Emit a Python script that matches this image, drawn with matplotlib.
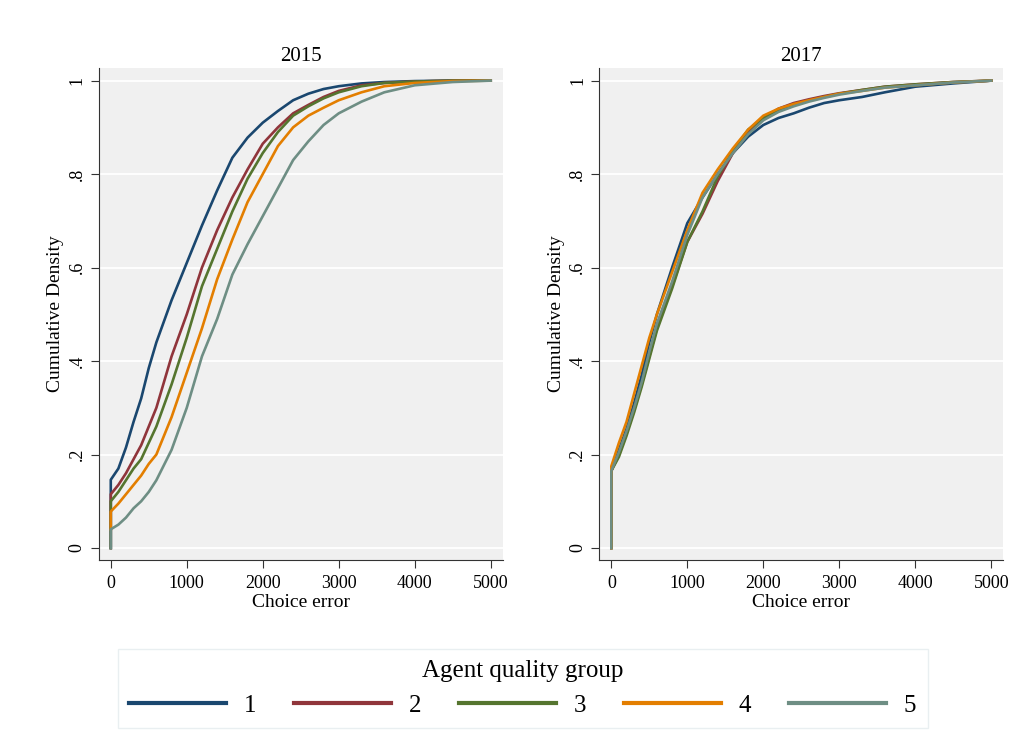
import matplotlib.pyplot as plt

plt.rcParams["font.family"] = ["Liberation Serif", "DejaVu Serif"]

# choice error grid (first point doubled for the jump at zero)
x = [0, 0, 100, 200, 300, 400, 500, 600, 800, 1000, 1200, 1400, 1600, 1800,
     2000, 2200, 2400, 2600, 2800, 3000, 3300, 3600, 4000, 4500, 5000]

groups = ["1", "2", "3", "4", "5"]
colors = ["#1a476f", "#90353b", "#55752f", "#e37e00", "#6e8e84"]

cdf_2015 = [
    [0, 0.146, 0.17, 0.215, 0.27, 0.32, 0.385, 0.44, 0.53, 0.61, 0.69, 0.765, 0.835, 0.878,
     0.91, 0.935, 0.958, 0.972, 0.982, 0.988, 0.994, 0.997, 0.999, 1.0, 1.0],
    [0, 0.115, 0.135, 0.16, 0.19, 0.22, 0.26, 0.30, 0.41, 0.50, 0.60, 0.68, 0.75, 0.81,
     0.865, 0.90, 0.93, 0.948, 0.965, 0.978, 0.99, 0.995, 0.998, 1.0, 1.0],
    [0, 0.10, 0.12, 0.145, 0.17, 0.19, 0.225, 0.26, 0.35, 0.45, 0.56, 0.64, 0.72, 0.79,
     0.845, 0.89, 0.925, 0.945, 0.962, 0.975, 0.988, 0.995, 0.998, 1.0, 1.0],
    [0.04, 0.078, 0.095, 0.115, 0.135, 0.155, 0.18, 0.20, 0.28, 0.375, 0.47, 0.575, 0.66, 0.74,
     0.80, 0.86, 0.90, 0.925, 0.942, 0.958, 0.975, 0.988, 0.995, 0.999, 1.0],
    [0, 0.04, 0.05, 0.065, 0.085, 0.10, 0.12, 0.145, 0.21, 0.30, 0.41, 0.49, 0.585, 0.65,
     0.71, 0.77, 0.83, 0.87, 0.905, 0.93, 0.955, 0.975, 0.99, 0.997, 1.0],
]

cdf_2017 = [
    [0, 0.165, 0.21, 0.255, 0.31, 0.37, 0.44, 0.50, 0.60, 0.695, 0.75, 0.80, 0.845, 0.88,
     0.905, 0.92, 0.93, 0.942, 0.952, 0.958, 0.965, 0.975, 0.987, 0.994, 1.0],
    [0, 0.165, 0.20, 0.245, 0.295, 0.35, 0.41, 0.47, 0.56, 0.655, 0.715, 0.785, 0.845, 0.89,
     0.92, 0.94, 0.952, 0.96, 0.967, 0.973, 0.98, 0.987, 0.992, 0.997, 1.0],
    [0, 0.165, 0.195, 0.24, 0.29, 0.345, 0.405, 0.465, 0.555, 0.655, 0.72, 0.795, 0.85, 0.895,
     0.92, 0.937, 0.948, 0.957, 0.965, 0.972, 0.98, 0.987, 0.992, 0.997, 1.0],
    [0, 0.175, 0.225, 0.27, 0.33, 0.39, 0.45, 0.50, 0.59, 0.68, 0.76, 0.81, 0.855, 0.895,
     0.925, 0.94, 0.95, 0.958, 0.965, 0.972, 0.978, 0.985, 0.99, 0.996, 1.0],
    [0, 0.165, 0.205, 0.25, 0.30, 0.355, 0.42, 0.48, 0.57, 0.67, 0.75, 0.80, 0.845, 0.885,
     0.915, 0.933, 0.945, 0.955, 0.963, 0.97, 0.978, 0.985, 0.99, 0.996, 1.0],
]

years = ["2015", "2017"]
panels = [cdf_2015, cdf_2017]

fig = plt.figure(figsize=(10.31, 7.53), dpi=100)
ax_l = fig.add_axes([0.0958, 0.2563, 0.3918, 0.6534])
ax_r = fig.add_axes([0.5813, 0.2563, 0.3918, 0.6534])

for ax, year, data in zip([ax_l, ax_r], years, panels):
    ax.set_facecolor("#f0f0f0")
    for g, c, y in zip(groups, colors, data):
        ax.plot(x, y, color=c, lw=1.9, label=g)
    ax.set_xlim(-158, 5158)
    ax.set_ylim(-0.0257, 1.027)
    ax.set_xticks([0, 1000, 2000, 3000, 4000, 5000])
    ax.set_yticks([0, 0.2, 0.4, 0.6, 0.8, 1.0])
    ax.set_yticklabels(["0", ".2", ".4", ".6", ".8", "1"], rotation=90, va="center")
    ax.tick_params(labelsize=13, length=6, color="#333333")
    ax.tick_params(axis="x", pad=5)
    ax.grid(axis="y", color="white", lw=1.3)
    ax.set_axisbelow(True)
    for s in ["top", "right"]:
        ax.spines[s].set_visible(False)
    for s in ["left", "bottom"]:
        ax.spines[s].set_color("#333333")
    ax.set_title(year, fontsize=15, pad=5)
    ax.set_xlabel("Choice error", fontsize=14, labelpad=1)
    ax.set_ylabel("Cumulative Density", fontsize=14, labelpad=3)

handles, labels = ax_l.get_legend_handles_labels()
leg = fig.legend(handles, labels, loc="center", bbox_to_anchor=(0.507, 0.0855),
                 ncol=5, title="Agent quality group", fontsize=18, title_fontsize=18,
                 handlelength=3.9, handletextpad=0.7, columnspacing=1.5,
                 frameon=True, fancybox=False, edgecolor="#e4ecee", borderpad=0.45)
for h in leg.get_lines():
    h.set_linewidth(3)

fig.savefig("out.png", dpi=100)
